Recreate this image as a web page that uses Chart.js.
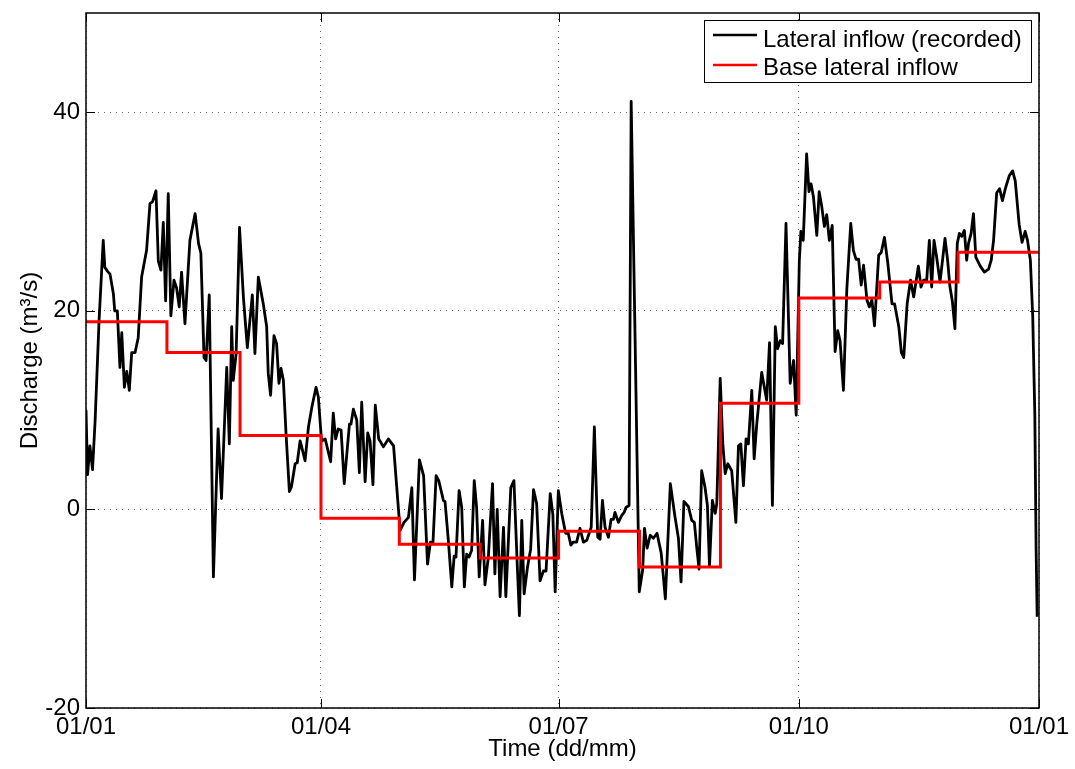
<!DOCTYPE html>
<html><head><meta charset="utf-8">
<script src="https://cdn.jsdelivr.net/npm/chart.js@4"></script>
<style>html,body{margin:0;padding:0;background:#fff}#wrap{width:1075px;height:769px}</style>
</head><body><div id="wrap"><canvas id="c" width="1075" height="769"></canvas></div>
<script>
const recordedDays = [0,0.6,1.5,2.5,3.5,5,6.6,7.2,8.2,9.2,10.5,11,12,13,13.7,14.7,15.6,16.6,17.5,18.8,20,21.3,23.2,24.5,25.5,26.8,27.7,28.7,29.6,30.5,31.5,32.5,33.7,34.7,35.7,36.6,37.9,39.8,41.8,43.1,44,
45.2,46,47.2,48.8,50.6,51.9,53.9,54.9,55.8,56.4,57.5,58.8,60.3,61.8,63.7,64.7,66,67.9,69.2,69.8,70.7,72,73,73.9,74.7,75.6,76.6,77.9,78.7,80.1,80.9,82,82.6,83.9,85.2,86.5,88.1,89,
90.2,91.6,93.7,94.7,95.6,96.6,97.7,98.9,100.9,101.5,102.4,103.7,104.7,105.6,106.9,107.9,108.8,109.9,110.8,112.1,112.6,113.9,115.8,117.8,118.7,120.3,121.8,123.5,124.8,125.8,127.7,129.3,130.8,131.9,132.9,134.1,135.1,
136.9,137.5,138.8,140.1,141,141.7,142.9,143.9,144.9,145.8,146.7,147.7,148.7,149.6,150.6,151.9,152.8,154.1,155.7,156.6,157.5,158.6,159.9,160.8,162.7,163.9,165.2,166,166.9,167.8,169.1,170.3,171.4,172.6,173.9,175.2,176.2,177.8,178.8,179.7,
180.9,182.2,183.7,184.7,185.7,186.6,187.9,189.2,190.5,191.8,193.5,194.7,196,196.9,197.8,198.8,200.1,201.1,202,202.6,203.9,205.2,206.1,206.8,208,208.8,211.9,213.2,213.9,214.9,216.1,217.3,218.7,220.3,221.9,223.8,225.5,
226.9,227.9,229,230.7,232,233,233.9,234.8,235.8,237.1,238,238.8,239.9,241,241.6,242.9,243.9,244.8,245.8,247.3,248.9,249.9,250.8,251.8,252.8,253.7,255,255.9,256.9,258.8,260.7,261.8,262.9,264,264.9,265.9,266.8,268.1,269.7,271,272,
273.2,273.8,274.7,276,276.9,277.7,278.6,279.9,280.8,281.8,282.8,283.7,284.7,285.8,286.9,287.9,288.8,290.1,291.4,292.9,293.9,294.9,295.9,296.9,297.8,299.1,300,301,302,303.6,304.6,305.8,307.1,308.7,309.7,311.3,312.3,313.2,314.5,315.8,317,
318.8,319.8,320.8,322,323,323.9,324.8,325.8,327.1,329,330,330.9,331.8,332.8,333.7,334.5,335.4,336.4,337.3,338,339,339.9,340.8,342.5,344.1,345.7,346.7,347.6,348.8,349.9,351,352.2,353.6,354.9,355.9,357.4,358.5,359.7,360.6,361.7,362.6,363.4,363.9,364.3];
const recordedValues = [10,3.5,6.4,4.0,9,19,27.1,24.4,24.0,23.7,21.7,20.0,20.0,14.3,17.8,12.3,13.9,12.0,15.8,15.8,17.3,23.4,26.1,30.8,31.0,32.1,25.0,24.1,28.9,21.0,31.8,19.5,23.1,22.3,20.4,23.9,18.7,27.1,29.8,26.8,25.8,
15.3,15.0,21.6,-6.8,8.1,1.1,14.3,6.6,18.4,13.0,15.7,28.4,21.3,16.3,21.6,15.7,23.4,20.7,18.4,13.7,11.5,17.5,16.7,12.7,14.2,13.0,7.7,1.8,2.3,4.6,4.7,6.9,6.3,4.9,8.3,10.3,12.3,11.3,
6.9,7.1,4.8,9.7,7.1,8.1,8.0,2.6,8.6,8.6,10.1,9.0,3.7,10.8,2.8,7.7,6.9,2.5,10.5,7.1,6.9,6.3,7.1,6.4,3.3,-2.1,-1.3,-0.8,2.2,-7.1,5.0,3.4,-5.5,-3.3,-3.3,3.4,2.9,
0.9,0.8,-3.2,-7.8,-4.7,-4.8,1.9,0.2,-7.8,-4.5,-4.8,-4.1,2.9,0.2,-6.8,-1.1,-7.6,-4.8,2.6,-6.5,0.0,-8.8,-1.8,-8.8,2.2,2.9,-5.8,-10.7,-1.1,-8.5,-5.8,-4.0,2.0,0.6,-7.2,-6.2,-6.2,1.6,-0.5,-8.3,
1.9,-0.4,-2.4,-2.4,-3.6,-3.3,-3.3,-1.9,-3.3,-3.1,-1.8,8.3,-2.8,-3.0,0.9,-1.8,-2.8,-1.0,-1.0,-0.3,-1.3,-0.6,-0.3,0.2,0.4,41.1,-8.3,-6.1,-1.9,-3.9,-2.6,-2.9,-2.4,-4.4,-9.0,2.6,-0.6,
-2.9,-7.3,0.8,0.3,-1.1,-1.3,-3.8,-6.0,3.9,2.2,0.4,-5.7,0.9,-0.4,0.6,13.2,6.6,3.6,4.6,3.9,-1.3,6.4,6.6,2.4,7.1,6.6,12.0,5.1,8.6,13.8,11.0,16.8,0.4,18.4,16.2,17.0,16.7,28.8,12.7,15.0,9.5,
25.0,28.0,27.1,35.8,32.0,32.8,31.5,27.6,32.0,30.5,28.5,29.7,27.1,28.6,15.9,18.0,17.0,12.0,22.2,28.8,26.1,25.2,25.2,22.6,24.6,21.1,20.4,21.1,18.5,25.6,25.9,27.4,24.8,20.7,20.7,18.4,15.8,15.3,20.7,23.1,21.4,
24.5,22.4,23.1,23.1,27.1,22.4,27.1,25.4,22.9,27.3,25.1,22.4,21.0,18.2,26.8,27.8,27.5,28.1,25.1,26.8,27.8,29.8,25.4,24.5,23.9,24.2,25.1,27.1,31.9,32.3,31.1,32.4,33.6,34.1,33.1,28.7,26.9,28.0,27.1,25.1,19.4,9.6,-4.1,-10.8];
const baseDays = [0,31,59,90,120,151,181,212,243,273,304,334,365];
const baseValues = [18.9,15.8,7.45,-0.9,-3.5,-4.9,-2.2,-5.8,10.7,21.3,22.9,25.9,25.9];
const xTickDays = [0,90,181,273,365];
const xTickLabels = ['01/01','01/04','01/07','01/10','01/01'];
const yTickValues = [-20,0,20,40];
const seriesLabels = ['Lateral inflow (recorded)','Base lateral inflow'];
const seriesColors = ['#000000','#ff0000'];

const FONT = "'Liberation Sans', Arial, sans-serif";

const framePlugin = {
  id: 'frame',
  afterDraw(chart) {
    const {ctx, chartArea: a, scales: {x, y}} = chart;
    ctx.save();
    ctx.strokeStyle = '#000';
    ctx.lineWidth = 1;
    const L = 9;
    ctx.beginPath();
    x.ticks.forEach(t => {
      const px = Math.round(x.getPixelForValue(t.value)) + 0.5;
      ctx.moveTo(px, a.bottom); ctx.lineTo(px, a.bottom - L);
      ctx.moveTo(px, a.top); ctx.lineTo(px, a.top + L);
    });
    y.ticks.forEach(t => {
      const py = Math.round(y.getPixelForValue(t.value)) + 0.5;
      ctx.moveTo(a.left, py); ctx.lineTo(a.left + L, py);
      ctx.moveTo(a.right, py); ctx.lineTo(a.right - L, py);
    });
    ctx.stroke();
    ctx.lineWidth = 1.5;
    ctx.strokeRect(a.left, a.top, a.right - a.left, a.bottom - a.top);

    // legend
    const bx = 704.5, by = 20.5, bw = 327, bh = 62;
    ctx.fillStyle = '#fff';
    ctx.fillRect(bx, by, bw, bh);
    ctx.lineWidth = 1;
    ctx.strokeRect(bx, by, bw, bh);
    const rows = [{line: 35, base: 46.5}, {line: 65, base: 75}];
    ctx.font = '24px ' + FONT;
    ctx.textAlign = 'left';
    ctx.textBaseline = 'alphabetic';
    chart.data.datasets.slice().sort((p, q) => p.legendIndex - q.legendIndex).forEach((ds, i) => {
      const r = rows[i];
      ctx.strokeStyle = ds.borderColor;
      ctx.lineWidth = 2.5;
      ctx.beginPath();
      ctx.moveTo(713, r.line); ctx.lineTo(757, r.line);
      ctx.stroke();
      ctx.fillStyle = '#000';
      ctx.fillText(ds.label, 763, r.base);
    });
    ctx.restore();
  }
};

new Chart(document.getElementById('c'), {
  type: 'line',
  data: {
    datasets: [
      {
        label: seriesLabels[0], legendIndex: 0, order: 1,
        data: recordedDays.map((d, i) => ({x: d, y: recordedValues[i]})),
        borderColor: seriesColors[0], borderWidth: 2.8, pointRadius: 0, tension: 0, fill: false,
        borderJoinStyle: 'round'
      },
      {
        label: seriesLabels[1], legendIndex: 1, order: 0,
        data: baseDays.map((d, i) => ({x: d, y: baseValues[i]})),
        borderColor: seriesColors[1], borderWidth: 3, pointRadius: 0, stepped: 'before', fill: false
      }
    ]
  },
  options: {
    responsive: false,
    animation: false,
    layout: {padding: {left: 0, right: 36, top: 13, bottom: 0}},
    plugins: {legend: {display: false}, tooltip: {enabled: false}},
    scales: {
      x: {
        type: 'linear', min: 0, max: 365,
        afterBuildTicks: s => { s.ticks = xTickDays.map(v => ({value: v})); },
        afterFit: s => { s.height = 61; s.paddingLeft = 0; s.paddingRight = 0; },
        ticks: {
          color: '#000', padding: 5, maxRotation: 0, autoSkip: false,
          font: {family: FONT, size: 24},
          callback: (v) => xTickLabels[xTickDays.indexOf(v)]
        },
        grid: {color: 'rgba(0,0,0,0.6)', lineWidth: 1, drawTicks: false},
        border: {display: false, dash: [1, 5]},
        title: {display: true, text: 'Time (dd/mm)', color: '#000', font: {family: FONT, size: 24}, padding: {top: 0, bottom: 5}}
      },
      y: {
        type: 'linear', min: -20, max: 50,
        afterBuildTicks: s => { s.ticks = yTickValues.map(v => ({value: v})); },
        afterFit: s => { s.width = 86; s.paddingTop = 0; s.paddingBottom = 0; },
        ticks: {color: '#000', padding: 6, font: {family: FONT, size: 24}},
        grid: {color: 'rgba(0,0,0,0.6)', lineWidth: 1, drawTicks: false},
        border: {display: false, dash: [1, 5]},
        title: {display: true, text: 'Discharge (m³/s)', color: '#000', font: {family: FONT, size: 24}, padding: {top: 16, bottom: 0}}
      }
    }
  },
  plugins: [framePlugin]
});
</script>
</body></html>
